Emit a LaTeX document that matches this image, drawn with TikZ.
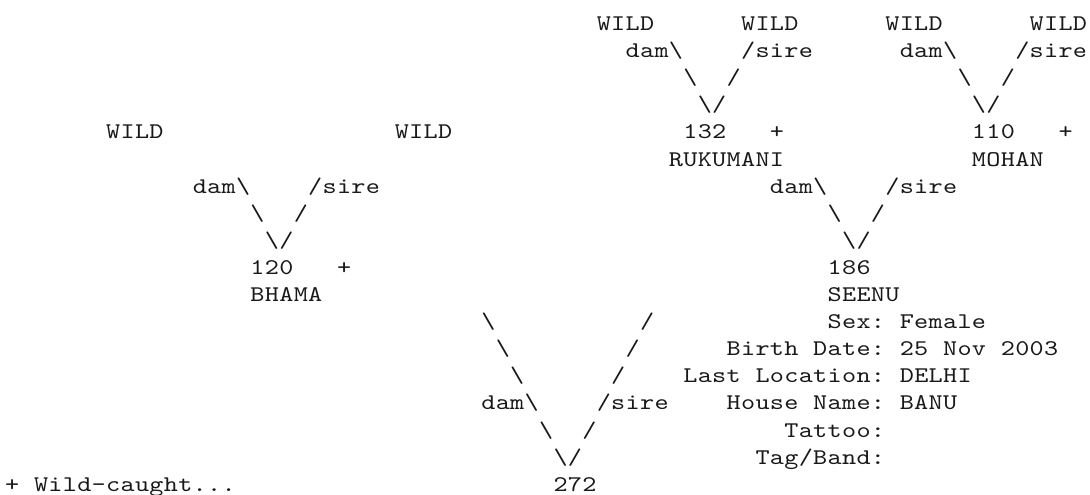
\documentclass[tikz,border=0pt]{standalone}
\usepackage{fontspec}
\newfontfamily\pedfont{lmmono10-regular}[Extension=.otf,FakeStretch=1.2]
\newcommand{\bs}{\textbackslash}
\ExplSyntaxOn
\dim_new:N \l_ped_cell_dim
\dim_set:Nn \l_ped_cell_dim {7.215pt}
\NewDocumentCommand{\cells}{m}
  { \tl_map_inline:nn {#1} { \hbox_to_wd:nn {\l_ped_cell_dim} {\hss ##1 \hss} } }
\ExplSyntaxOff
\newcommand{\pc}[4]{\node[txt] (#1) at ({5+#2*14.43},{30.5+#3*27.1}) {\cells{#4}};}
\begin{document}
\begin{tikzpicture}[x=0.5pt,y=-0.5pt,
  txt/.style={anchor=base west,inner sep=0pt,outer sep=0pt,text=black!90,
    font=\pedfont\fontsize{11.2pt}{13.5pt}\selectfont}]
\useasboundingbox[fill=white] (0,0) rectangle (1090,494);
% row 0
\pc{wa}{41}{0}{WILD}
\pc{wb}{51}{0}{WILD}
\pc{wc}{61}{0}{WILD}
\pc{wd}{71}{0}{WILD}
% row 1
\pc{damR}{43}{1}{dam\bs}
\pc{sireR}{51}{1}{/sire}
\pc{damM}{62}{1}{dam\bs}
\pc{sireM}{70}{1}{/sire}
% row 2
\pc{bsRa}{47}{2}{\bs}
\pc{slRa}{50}{2}{/}
\pc{bsMa}{66}{2}{\bs}
\pc{slMa}{69}{2}{/}
% row 3
\pc{vR}{48}{3}{\bs/}
\pc{vM}{67}{3}{\bs/}
% row 4
\pc{we}{7}{4}{WILD}
\pc{wf}{27}{4}{WILD}
\pc{n132}{47}{4}{132}
\pc{p132}{53}{4}{+}
\pc{n110}{67}{4}{110}
\pc{p110}{73}{4}{+}
% row 5
\pc{rukumani}{46}{5}{RUKUMANI}
\pc{mohan}{67}{5}{MOHAN}
% row 6
\pc{damB}{13}{6}{dam\bs}
\pc{sireB}{21}{6}{/sire}
\pc{damS}{53}{6}{dam\bs}
\pc{sireS}{61}{6}{/sire}
% row 7
\pc{bsBa}{17}{7}{\bs}
\pc{slBa}{20}{7}{/}
\pc{bsSa}{57}{7}{\bs}
\pc{slSa}{60}{7}{/}
% row 8
\pc{vB}{18}{8}{\bs/}
\pc{vS}{58}{8}{\bs/}
% row 9
\pc{n120}{17}{9}{120}
\pc{p120}{23}{9}{+}
\pc{n186}{57}{9}{186}
% row 10
\pc{bhama}{17}{10}{BHAMA}
\pc{seenu}{57}{10}{SEENU}
% rows 11-16
\pc{bsLa}{33}{11}{\bs}
\pc{slLa}{44}{11}{/}
\pc{sex}{57}{11}{Sex:~Female}
\pc{bsLb}{34}{12}{\bs}
\pc{slLb}{43}{12}{/}
\pc{birth}{50}{12}{Birth~Date:~25~Nov~2003}
\pc{bsLc}{35}{13}{\bs}
\pc{slLc}{42}{13}{/}
\pc{loc}{47}{13}{Last~Location:~DELHI}
\pc{damT}{33}{14}{dam\bs}
\pc{sireT}{41}{14}{/sire}
\pc{house}{50}{14}{House~Name:~BANU}
\pc{bsTa}{37}{15}{\bs}
\pc{slTa}{40}{15}{/}
\pc{tattoo}{54}{15}{Tattoo:}
\pc{vT}{38}{16}{\bs/}
\pc{tag}{52}{16}{Tag/Band:}
% row 17
\pc{legend}{0}{17}{+~Wild-caught...}
\pc{n272}{38}{17}{272}
\end{tikzpicture}
\end{document}
